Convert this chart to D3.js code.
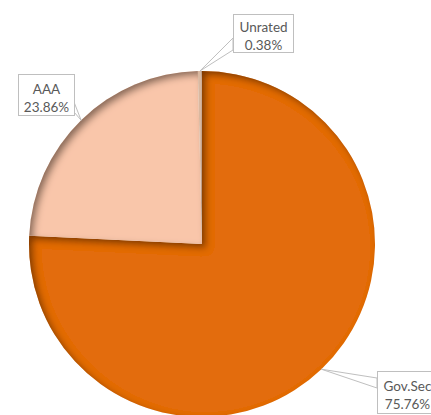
<!DOCTYPE html>
<html>
<head>
<meta charset="utf-8">
<script src="https://cdn.jsdelivr.net/npm/d3@7"></script>
<style>
  html, body { margin: 0; padding: 0; background: #fff; }
  svg { display: block; }
  text { font-family: Lato, "Open Sans", sans-serif; font-size: 13.5px; fill: #595959; }
</style>
</head>
<body>
<svg id="chart" width="431" height="415"></svg>
<script>
// Portfolio split by rating
const categories = ["Gov.Sec", "AAA", "Unrated"];
const shares = [75.76, 23.86, 0.38];
const sliceColors = ["#E36C0A", "#F9C6AA", "#D9B8A0"];

// Callout boxes: top-left corner, size, and where the pointer leaves the box
const callouts = [
  { x: 377, y: 371, w: 60, h: 42, base: [[377, 378], [377, 388]] },
  { x: 18,  y: 74,  w: 56, h: 41, base: [[74, 102], [74, 112]] },
  { x: 233, y: 14,  w: 60, h: 38, base: [[233, 38], [233, 50]] }
];

const W = 431, H = 415;
const cx = 202, cy = 244, R = 173;

const svg = d3.select("#chart");
const defs = svg.append("defs");

// Inner shadow that darkens the upper-left edges of each slice
const f = defs.append("filter").attr("id", "innerShadow")
  .attr("x", "-20%").attr("y", "-20%").attr("width", "140%").attr("height", "140%");
f.append("feComponentTransfer").attr("in", "SourceAlpha").attr("result", "inv")
  .append("feFuncA").attr("type", "table").attr("tableValues", "1 0");
f.append("feGaussianBlur").attr("in", "inv").attr("stdDeviation", 3.5).attr("result", "blur");
f.append("feOffset").attr("in", "blur").attr("dx", 4).attr("dy", 4).attr("result", "off");
f.append("feFlood").attr("flood-color", "#2a1200").attr("flood-opacity", 0.75).attr("result", "col");
f.append("feComposite").attr("in", "col").attr("in2", "off").attr("operator", "in").attr("result", "sh");
f.append("feComposite").attr("in", "sh").attr("in2", "SourceAlpha").attr("operator", "in").attr("result", "shIn");
const m = f.append("feMerge");
m.append("feMergeNode").attr("in", "SourceGraphic");
m.append("feMergeNode").attr("in", "shIn");

const data = categories.map((c, i) => ({ name: c, value: shares[i], color: sliceColors[i], call: callouts[i] }));

const pie = d3.pie().value(d => d.value).sort(null);
const arc = d3.arc().innerRadius(0).outerRadius(R);
const arcs = pie(data);

const g = svg.append("g").attr("transform", `translate(${cx},${cy})`);
g.selectAll("path.slice")
  .data(arcs)
  .join("path")
  .attr("class", "slice")
  .attr("d", arc)
  .attr("fill", d => d.data.color)
  .attr("filter", "url(#innerShadow)");

// Callouts with pointers to the slice rims
const lab = svg.append("g");
arcs.forEach(a => {
  const mid = (a.startAngle + a.endAngle) / 2;
  const tip = [cx + R * Math.sin(mid), cy - R * Math.cos(mid)];
  const c = a.data.call;
  lab.append("path")
    .attr("d", `M${c.base[0][0]},${c.base[0][1]}L${tip[0]},${tip[1]}L${c.base[1][0]},${c.base[1][1]}Z`)
    .attr("fill", "#fff").attr("stroke", "#bfbfbf").attr("stroke-width", 1);
  lab.append("rect")
    .attr("x", c.x + 0.5).attr("y", c.y + 0.5).attr("width", c.w).attr("height", c.h)
    .attr("fill", "#fff").attr("stroke", "#bfbfbf").attr("stroke-width", 1);
  const t = lab.append("text").attr("text-anchor", "middle");
  const mx = c.x + c.w / 2 + 0.5;
  t.append("tspan").attr("x", mx).attr("y", c.y + c.h / 2 - 1).text(a.data.name);
  t.append("tspan").attr("x", mx).attr("y", c.y + c.h / 2 + 17).text(a.data.value.toFixed(2) + "%");
});
</script>
</body>
</html>
